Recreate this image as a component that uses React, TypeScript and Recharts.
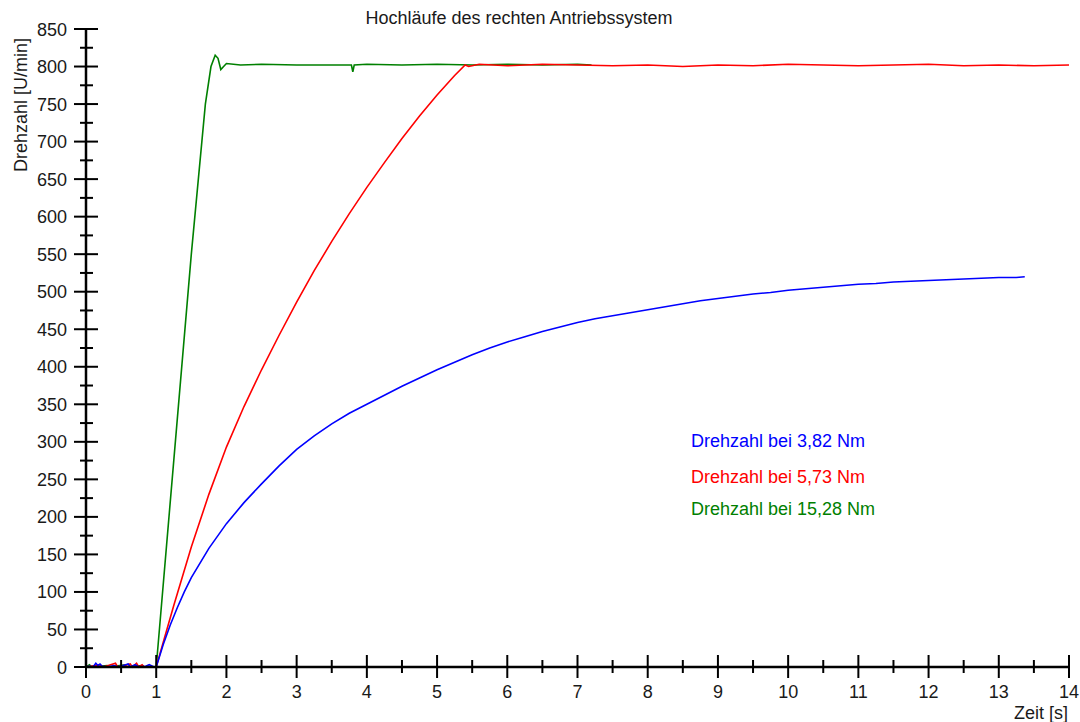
import { LineChart, Line, XAxis, YAxis } from "recharts";

const FONT = '"Liberation Sans", Arial, sans-serif';

// [time s, speed U/min]
const blueSeries: [number, number][] = [
  [0, 0], [0.05, 1], [0.1, 0], [0.14, 5], [0.17, 2], [0.2, 4], [0.23, 1], [0.3, 0],
  [0.4, 2], [0.45, 0], [0.5, 1], [0.6, 4], [0.63, 0], [0.7, 3], [0.75, 0], [0.85, 1],
  [0.9, 3], [0.97, 0], [1.0, 0], [1.1, 30], [1.2, 56], [1.3, 79], [1.4, 100], [1.5, 119],
  [1.75, 158], [2.0, 191], [2.25, 219], [2.5, 244], [2.75, 268], [3.0, 290], [3.25, 308],
  [3.5, 324], [3.75, 338], [4.0, 350], [4.25, 362], [4.5, 374], [4.75, 385], [5.0, 396],
  [5.25, 406], [5.5, 416], [5.75, 425], [6.0, 433], [6.25, 440], [6.5, 447], [6.75, 453],
  [7.0, 459], [7.25, 464], [7.5, 468], [7.75, 472], [8.0, 476], [8.25, 480], [8.5, 484],
  [8.75, 488], [9.0, 491], [9.25, 494], [9.5, 497], [9.75, 499], [10.0, 502], [10.25, 504],
  [10.5, 506], [10.75, 508], [11.0, 510], [11.25, 511], [11.5, 513], [11.75, 514],
  [12.0, 515], [12.25, 516], [12.5, 517], [12.75, 518], [13.0, 519], [13.25, 519], [13.37, 520],
];

const redSeries: [number, number][] = [
  [0, 0], [0.19, 3], [0.25, 0], [0.42, 5], [0.45, 0], [0.63, 4], [0.66, 0], [0.72, 5],
  [0.75, 0], [0.8, 3], [0.83, 0], [1.0, 0], [1.1, 33], [1.25, 82], [1.5, 160], [1.75, 230],
  [2.0, 293], [2.25, 347], [2.5, 396], [2.75, 442], [3.0, 486], [3.25, 528], [3.5, 567],
  [3.75, 604], [4.0, 639], [4.25, 672], [4.5, 704], [4.75, 734], [5.0, 762], [5.25, 788],
  [5.4, 802], [5.45, 800], [5.6, 803], [6.0, 801], [6.5, 803], [7.0, 802], [7.5, 801],
  [8.0, 802], [8.5, 800], [9.0, 802], [9.5, 801], [10.0, 803], [10.5, 802], [11.0, 801],
  [11.5, 802], [12.0, 803], [12.5, 801], [13.0, 802], [13.5, 801], [14.0, 802],
];

const greenSeries: [number, number][] = [
  [0, 0], [0.05, 3], [0.08, 0], [0.3, 2], [0.33, 0], [0.55, 3], [0.58, 0], [0.8, 2],
  [0.83, 0], [1.0, 0], [1.25, 275], [1.5, 550], [1.7, 750], [1.78, 800], [1.84, 815],
  [1.88, 811], [1.92, 796], [1.96, 800], [2.0, 804], [2.2, 802], [2.5, 803], [3.0, 802],
  [3.5, 802], [3.78, 802], [3.8, 793], [3.82, 802], [4.0, 803], [4.5, 802], [5.0, 803],
  [5.5, 802], [6.0, 803], [6.5, 802], [7.0, 803], [7.2, 802],
];

const xTicks = Array.from({ length: 29 }, (_, i) => i * 0.5);
const yTicks = Array.from({ length: 35 }, (_, i) => i * 25);

const legendItems = [
  { label: "Drehzahl bei 3,82 Nm", color: "#0000ff" },
  { label: "Drehzahl bei 5,73 Nm", color: "#ff0000" },
  { label: "Drehzahl bei 15,28 Nm", color: "#008000" },
];

const toRows = (s: [number, number][]) => s.map(([t, v]) => ({ t, v }));

const AXIS_X = 86;

const XTick = ({ x, payload }: any) => {
  const major = Number.isInteger(payload.value);
  return (
    <g>
      <line x1={x} x2={x} y1={major ? 655 : 660} y2={major ? 678 : 673} stroke="#000" strokeWidth={2} />
      {major && (
        <text x={x} y={698} textAnchor="middle" fontSize={18} fontFamily={FONT} fill="#1a1a1a">
          {payload.value}
        </text>
      )}
    </g>
  );
};

const YTick = ({ y, payload }: any) => {
  const major = payload.value % 50 === 0;
  return (
    <g>
      <line x1={major ? AXIS_X - 12 : AXIS_X - 6} x2={major ? AXIS_X + 12 : AXIS_X + 7} y1={y} y2={y} stroke="#000" strokeWidth={2} />
      {major && (
        <text x={67} y={y + 6.5} textAnchor="end" fontSize={18} fontFamily={FONT} fill="#1a1a1a">
          {payload.value}
        </text>
      )}
    </g>
  );
};

export default function App() {
  return (
    <div style={{ position: "absolute", left: 0, top: 0, width: 1080, height: 722, background: "#fff" }}>
      <LineChart width={1080} height={722} margin={{ top: 29, right: 11, left: 0, bottom: 0 }}>
        <XAxis
          dataKey="t"
          type="number"
          domain={[0, 14]}
          ticks={xTicks}
          interval={0}
          height={55}
          tickLine={false}
          axisLine={{ stroke: "#000", strokeWidth: 2.5 }}
          tick={(p: any) => <XTick {...p} />}
        />
        <YAxis
          type="number"
          domain={[0, 850]}
          ticks={yTicks}
          interval={0}
          width={AXIS_X}
          tickLine={false}
          axisLine={{ stroke: "#000", strokeWidth: 2.5 }}
          tick={(p: any) => <YTick {...p} />}
        />
        <Line data={toRows(greenSeries)} dataKey="v" stroke="#008000" strokeWidth={1.6} dot={false} isAnimationActive={false} type="linear" />
        <Line data={toRows(redSeries)} dataKey="v" stroke="#ff0000" strokeWidth={1.6} dot={false} isAnimationActive={false} type="linear" />
        <Line data={toRows(blueSeries)} dataKey="v" stroke="#0000ff" strokeWidth={1.6} dot={false} isAnimationActive={false} type="linear" />
      </LineChart>
      <svg width={1080} height={722} style={{ position: "absolute", left: 0, top: 0, pointerEvents: "none" }}>
        <text x={519} y={24} textAnchor="middle" fontSize={18} fontFamily={FONT} fill="#1a1a1a">
          Hochläufe des rechten Antriebssystem
        </text>
        <text transform="translate(27,105) rotate(-90)" textAnchor="middle" fontSize={18} fontFamily={FONT} fill="#1a1a1a">
          Drehzahl [U/min]
        </text>
        <text x={1068} y={719} textAnchor="end" fontSize={18} fontFamily={FONT} fill="#1a1a1a">
          Zeit [s]
        </text>
        {legendItems.map((item, i) => (
          <text key={item.label} x={691} y={[447, 483, 515][i]} fontSize={18} fontFamily={FONT} fill={item.color}>
            {item.label}
          </text>
        ))}
      </svg>
    </div>
  );
}
